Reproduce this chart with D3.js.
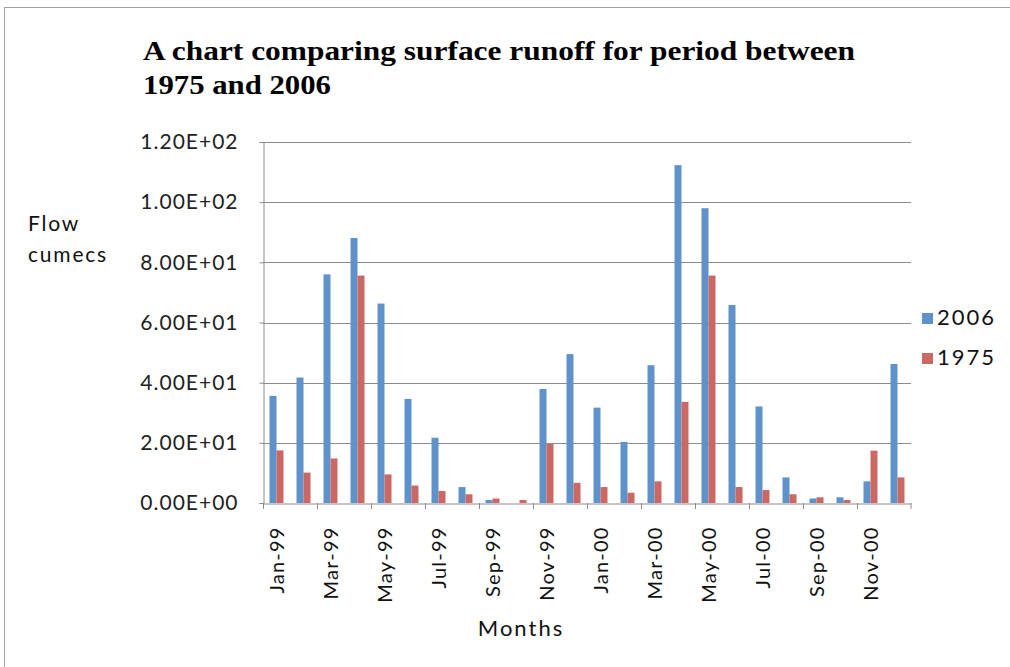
<!DOCTYPE html>
<html>
<head>
<meta charset="utf-8">
<script src="https://cdn.jsdelivr.net/npm/d3@7"></script>
<style>
  body { margin: 0; background: #fff; }
  svg { display: block; }
</style>
</head>
<body>
<div id="chart"></div>
<script>
// months on the x axis
const months = ["Jan-99","Feb-99","Mar-99","Apr-99","May-99","Jun-99","Jul-99","Aug-99","Sep-99","Oct-99","Nov-99","Dec-99",
                "Jan-00","Feb-00","Mar-00","Apr-00","May-00","Jun-00","Jul-00","Aug-00","Sep-00","Oct-00","Nov-00","Dec-00"];
const series = ["2006", "1975"];
// flow in cumecs
const flow2006 = [35.6, 41.7, 76.0, 88.1, 66.3, 34.6, 21.7, 5.3, 1.0, 0.0, 37.9, 49.5,
                  31.7, 20.3, 45.8, 112.3, 98.0, 65.8, 32.1, 8.5, 1.5, 1.9, 7.2, 46.2];
const flow1975 = [17.5, 10.1, 14.8, 75.6, 9.5, 5.8, 4.0, 2.9, 1.5, 1.0, 19.6, 6.7,
                  5.3, 3.4, 7.2, 33.6, 75.6, 5.3, 4.3, 2.9, 1.9, 1.0, 17.4, 8.5];
const yTicks = [0, 20, 40, 60, 80, 100, 120];
const colors = {"2006": "#5f92ca", "1975": "#cb6863"};

const W = 1010, H = 667;
const FONT = "Lato, 'Open Sans', sans-serif";
const svg = d3.select("#chart").append("svg").attr("width", W).attr("height", H);

// outer frame (only top / left visible)
svg.append("rect").attr("x", 4.5).attr("y", 7.5).attr("width", W + 10).attr("height", H + 10)
   .attr("fill", "none").attr("stroke", "#a0a0a0");

const pLeft = 263, pRight = 911, pTop = 142, pBottom = 503;

const x = d3.scaleBand().domain(months).range([pLeft, pRight]).padding(0);
const xs = d3.scaleBand().domain(series).range([0, x.bandwidth()]).paddingInner(0).paddingOuter(0.93);
const y = d3.scaleLinear().domain([0, 120]).range([pBottom, pTop]);

function sci(d) {
  const e = d === 0 ? 0 : Math.floor(Math.log10(d));
  const m = d === 0 ? 0 : d / Math.pow(10, e);
  return m.toFixed(2) + "E+" + String(e).padStart(2, "0");
}

// gridlines
svg.append("g").selectAll("line").data(yTicks.slice(1)).enter().append("line")
   .attr("x1", pLeft).attr("x2", pRight)
   .attr("y1", d => Math.round(y(d)) + 0.5).attr("y2", d => Math.round(y(d)) + 0.5)
   .attr("stroke", "#8c8c8c").attr("stroke-width", 1);

// bars
const data = months.map((m, i) => ({m: m, "2006": flow2006[i], "1975": flow1975[i]}));
const grp = svg.append("g").selectAll("g").data(data).enter().append("g")
   .attr("transform", d => "translate(" + x(d.m) + ",0)");
grp.selectAll("rect").data(d => series.map(s => ({s: s, v: d[s]}))).enter().append("rect")
   .attr("x", d => xs(d.s))
   .attr("width", xs.bandwidth())
   .attr("y", d => y(d.v))
   .attr("height", d => y(0) - y(d.v))
   .attr("fill", d => colors[d.s]);

// y axis
const yAxis = svg.append("g").attr("transform", "translate(" + (pLeft + 0.5) + ",0)")
   .call(d3.axisLeft(y).tickValues(yTicks).tickSize(4).tickPadding(21).tickFormat(sci));
yAxis.select(".domain").attr("stroke", "#8c8c8c");
yAxis.selectAll(".tick line").attr("stroke", "#8c8c8c");
yAxis.selectAll(".tick text")
   .attr("font-family", FONT).attr("font-size", 21).attr("letter-spacing", 1).attr("fill", "#222");

// x axis
const xAxis = svg.append("g").attr("transform", "translate(0," + (pBottom + 0.5) + ")")
   .call(d3.axisBottom(x).tickSize(0).tickValues(months.filter((m, i) => i % 2 === 0)));
xAxis.select(".domain").attr("stroke", "#8c8c8c");
xAxis.selectAll(".tick text")
   .attr("transform", "rotate(-90)")
   .attr("text-anchor", "end")
   .attr("x", -23).attr("y", 0).attr("dy", "0.35em")
   .attr("font-family", FONT).attr("font-size", 20).attr("letter-spacing", 1.2).attr("fill", "#111");
// tick marks at every other category boundary
svg.append("g").selectAll("line").data(months.filter((m, i) => i % 2 === 0).concat(["end"])).enter().append("line")
   .attr("x1", d => d === "end" ? pRight : Math.round(x(d)) + 0.5)
   .attr("x2", d => d === "end" ? pRight : Math.round(x(d)) + 0.5)
   .attr("y1", pBottom).attr("y2", pBottom + 6)
   .attr("stroke", "#8c8c8c");

// title
const title = svg.append("g").attr("font-family", "'Liberation Serif', 'DejaVu Serif', serif")
   .attr("font-weight", "bold").attr("font-size", 27).attr("fill", "#000");
title.append("text").attr("x", 143).attr("y", 60).attr("textLength", 712).attr("lengthAdjust", "spacingAndGlyphs")
   .text("A chart comparing surface runoff for period between");
title.append("text").attr("x", 143).attr("y", 94).attr("textLength", 188).attr("lengthAdjust", "spacingAndGlyphs")
   .text("1975 and 2006");

// axis titles
svg.append("text").attr("x", 28).attr("y", 231).attr("font-family", FONT)
   .attr("font-size", 21).attr("letter-spacing", 1.8).attr("fill", "#111").text("Flow");
svg.append("text").attr("x", 28).attr("y", 262).attr("font-family", FONT)
   .attr("font-size", 21).attr("letter-spacing", 1.8).attr("fill", "#111").text("cumecs");
svg.append("text").attr("x", 521).attr("y", 636).attr("text-anchor", "middle")
   .attr("font-family", FONT).attr("font-size", 22).attr("letter-spacing", 2).attr("fill", "#111").text("Months");

// legend
const leg = svg.append("g").selectAll("g").data(series).enter().append("g")
   .attr("transform", (d, i) => "translate(922," + (313 + i * 40) + ")");
leg.append("rect").attr("width", 11).attr("height", 11).attr("fill", d => colors[d]);
leg.append("text").attr("x", 15).attr("y", 12).attr("font-family", FONT)
   .attr("font-size", 22).attr("letter-spacing", 2).attr("fill", "#111").text(d => d);
</script>
</body>
</html>
